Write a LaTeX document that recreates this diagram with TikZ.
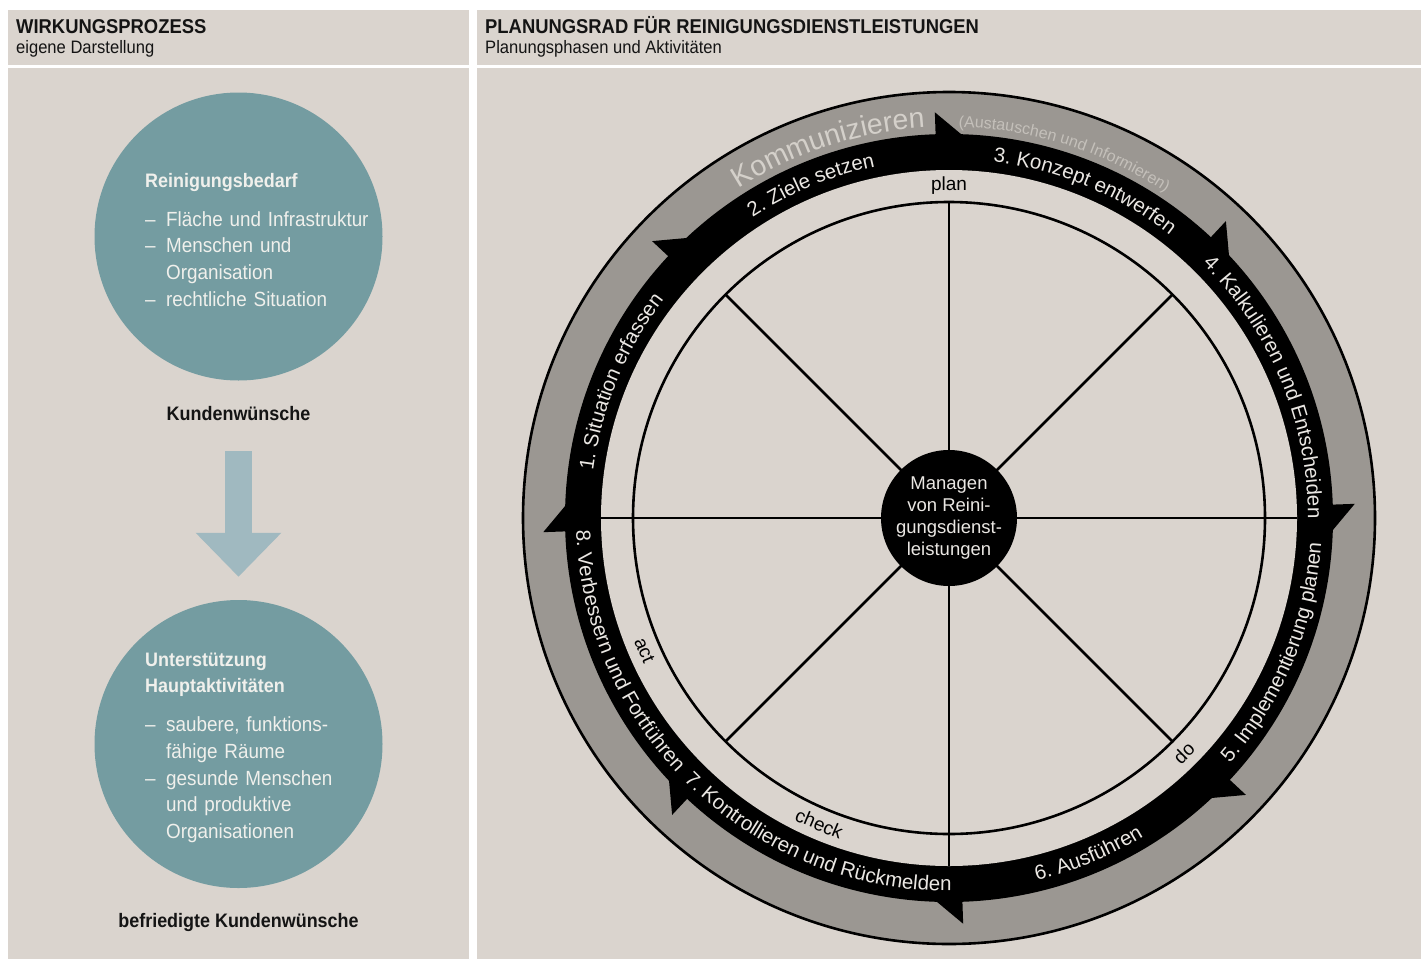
\documentclass[tikz,border=0pt]{standalone}
\usepackage{fontspec}
\setmainfont{Liberation Sans}
\newfontfamily\condsans{Liberation Sans}[FakeStretch=0.92]
\usepackage{tikz}
\usetikzlibrary{
    arrows.meta,
    decorations.text
}

\definecolor{panelbg}{RGB}{218,212,206}
\definecolor{bubbleteal}{RGB}{116,156,161}
\definecolor{bubbletext}{RGB}{240,240,236}
\definecolor{flowblue}{RGB}{160,185,192}
\definecolor{ringgray}{RGB}{155,151,146}
\definecolor{ringtext}{RGB}{212,208,202}
\definecolor{ringnote}{RGB}{196,192,186}
\definecolor{bandtext}{RGB}{234,231,227}

\newcommand\bandfont{\fontsize{20.5}{24}\selectfont\color{bandtext}}
% text set along an arc of the wheel: start angle, end angle, radius, text
\newcommand\arclabel[4]{%
    \path[decorate, decoration={text along path, text align=center, text={#4}}]
        (#1:#3) arc[start angle=#1, end angle=#2, radius=#3];}

\begin{document}
\begin{tikzpicture}[
            x=1pt, y=1pt,
            >=Latex,
            panel/.style={fill=panelbg, draw=none},
            title/.style={font=\condsans\bfseries\fontsize{20}{24}\selectfont, text=black!92, anchor=base west, inner sep=0},
            subtitle/.style={font=\condsans\fontsize{18}{22}\selectfont, text=black!92, anchor=base west, inner sep=0},
            bubble/.style={circle, fill=bubbleteal, minimum size=288pt, inner sep=0},
            bubblehead/.style={font=\condsans\bfseries\fontsize{19.5}{26.7}\selectfont, text=bubbletext, anchor=base west, inner sep=0, text width=230pt, align=left},
            bubblelist/.style={font=\condsans\fontsize{20.5}{26.7}\selectfont, text=bubbletext, anchor=base west, inner sep=0, text width=230pt, align=left},
            caption/.style={font=\condsans\bfseries\fontsize{19.5}{24}\selectfont, text=black!92, anchor=base, inner sep=0},
            flow/.style={line width=27pt, flowblue, -{Triangle[width=83pt, length=44pt]}},
            hub/.style={circle, fill=black, minimum size=136pt, inner sep=0, align=center, text=bandtext, font=\fontsize{18.5}{21.7}\selectfont},
            phase/.style={font=\fontsize{19}{22}\selectfont, inner sep=0},
            spoke/.style={line width=2.6pt}
        ]
            \useasboundingbox (0,0) rectangle (1423,-961);

            % ====== Panels ======
            \fill[panel] (8,-10) rectangle (469,-65);
            \fill[panel] (8,-68) rectangle (469,-959);
            \fill[panel] (477,-10) rectangle (1421,-65);
            \fill[panel] (477,-68) rectangle (1421,-959);

            \node[title] (lefttitle) at (16,-33) {WIRKUNGSPROZESS};
            \node[subtitle] (leftsub) at (16,-53) {eigene Darstellung};
            \node[title] (righttitle) at (485,-33) {PLANUNGSRAD FÜR REINIGUNGSDIENSTLEISTUNGEN};
            \node[subtitle] (rightsub) at (485,-53) {Planungsphasen und Aktivitäten};

            % ====== Wirkungsprozess ======
            \node[bubble] (need) at (238.5,-236.5) {};
            \node[bubblehead] (needhead) at (145,-187) {Reinigungsbedarf};
            \node[bubblelist] (needlist) at (145,-226)
                {\makebox[21pt][l]{–}Fläche und Infrastruktur\\
                 \makebox[21pt][l]{–}Menschen und\\
                 \hspace*{21pt}Organisation\\
                 \makebox[21pt][l]{–}rechtliche Situation};

            \node[caption] (wish) at (238.5,-420) {Kundenwünsche};

            \node[bubble] (support) at (238.5,-744) {};
            \node[bubblehead] (supporthead) at (145,-666) {Unterstützung\\Hauptaktivitäten};
            \node[bubblelist] (supportlist) at (145,-731.7)
                {\makebox[21pt][l]{–}saubere, funktions-\\
                 \hspace*{21pt}fähige Räume\\
                 \makebox[21pt][l]{–}gesunde Menschen\\
                 \hspace*{21pt}und produktive\\
                 \hspace*{21pt}Organisationen};

            \node[caption] (done) at (238.5,-927) {befriedigte Kundenwünsche};

            \draw[flow, shorten <=31pt, shorten >=23pt] (wish.south) -- (support.north);

            % ====== Planungsrad ======
            \begin{scope}[shift={(949,-518)}]
                \fill[ringgray] (0,0) circle[radius=426];
                \draw[line width=2.6pt] (0,0) circle[radius=426];
                \fill[black] (0,0) circle[radius=384];
                \fill[panelbg] (0,0) circle[radius=348];

                % barbs of the phase band, turning clockwise
                \foreach \a in {0,45,...,315}
                    \fill[black] ({\a+2}:380) -- ({\a+2}:406) -- ({\a-2}:383) -- ({\a-2}:380) -- cycle;

                \foreach \a in {45,90,135,225,315}
                    \draw[spoke] (0,0) -- (\a:316);
                \foreach \a in {0,180,270}
                    \draw[spoke] (0,0) -- (\a:348);
                \draw[spoke] (0,0) circle[radius=316];

                \node[hub] (hub) at (0,0) {Managen\\von Reini-\\gungsdienst-\\leistungen};

                \node[phase] (plan) at (90:332) {plan};
                \node[phase, rotate=45] (do) at (-45:332) {do};
                \node[phase, rotate=-23] (check) at (-113:332) {check};
                \node[phase, rotate=-66.5] (act) at (203.5:332) {act};

                % communication ring
                \arclabel{130}{86}{391}{|\fontsize{28.5}{32}\selectfont\color{ringtext}|Kommunizieren}
                \arclabel{100}{45}{391}{|\fontsize{16}{19}\selectfont\color{ringnote}|(Austauschen und Informieren)}

                % phases, upper half clockwise, lower half counter-clockwise
                \arclabel{190}{125}{359}{|\bandfont|1. Situation erfassen}
                \arclabel{145}{80}{359}{|\bandfont|2. Ziele setzen}
                \arclabel{100}{35}{359}{|\bandfont|3. Konzept entwerfen}
                \arclabel{55}{-10}{359}{|\bandfont|4. Kalkulieren und Entscheiden}
                \arclabel{-55}{10}{373}{|\bandfont|5. Implementierung planen}
                \arclabel{-100}{-35}{373}{|\bandfont|6. Ausführen}
                \arclabel{-145}{-80}{373}{|\bandfont|7. Kontrollieren und Rückmelden}
                \arclabel{170}{235}{373}{|\bandfont|8. Verbessern und Fortführen}
            \end{scope}
        \end{tikzpicture}
\end{document}
